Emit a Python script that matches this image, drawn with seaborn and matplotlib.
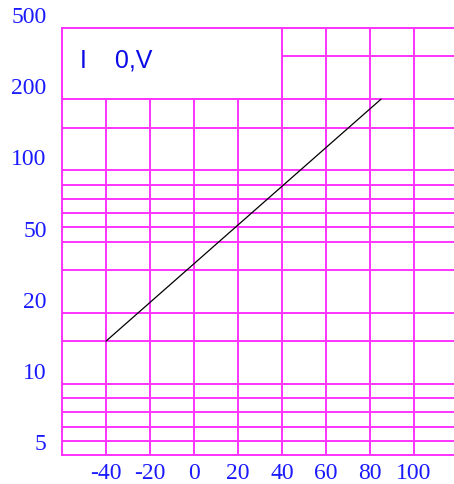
import numpy as np
import matplotlib
matplotlib.use("Agg")
import matplotlib.pyplot as plt
import seaborn as sns
from matplotlib.patches import Rectangle

# Data
temps = [-40, 85]
current = [16, 200]

x_ticks = [-40, -20, 0, 20, 40, 60, 80, 100]
y_ticks = [5, 10, 20, 50, 100, 200, 500]
y_minor = [6, 7, 8, 9, 16, 38, 60, 70, 80, 90, 160, 380]
label_text = "I    0,V"

grid_color = "#ff33ff"
text_color = "#1a1aff"

sns.set_style("white")

# equally spaced y labels, linear between neighbours
pos = np.arange(len(y_ticks))


def forward(v):
    return np.interp(v, y_ticks, pos)


def inverse(p):
    return np.interp(p, pos, y_ticks)


fig = plt.figure(figsize=(4.54, 4.84), dpi=100)
ax = fig.add_axes([62 / 454, 29 / 484, 396 / 454, 427 / 484])

sns.lineplot(x=temps, y=current, color="black", linewidth=0.9, ax=ax, zorder=3)

ax.set_yscale("function", functions=(forward, inverse))
ax.set_ylim(5, 500)
ax.set_xlim(-60, 120)

ax.set_xticks(x_ticks)
ax.set_xticklabels([str(t) for t in x_ticks])
ax.set_yticks(y_ticks)
ax.set_yticklabels([str(t) for t in y_ticks])
ax.set_yticks(y_minor, minor=True)
ax.set_xticks([], minor=True)

ax.set_axisbelow(True)
ax.grid(True, which="both", color=grid_color, linewidth=1.4)
ax.tick_params(which="both", length=0)
ax.tick_params(axis="x", pad=6, labelsize=17, labelcolor=text_color)
ax.tick_params(axis="y", pad=11, labelsize=17, labelcolor=text_color)
for lab in ax.get_xticklabels() + ax.get_yticklabels():
    lab.set_fontfamily("Liberation Serif")
for lab in ax.get_yticklabels():
    lab.set_verticalalignment("bottom")

for side in ["top", "left", "bottom"]:
    ax.spines[side].set_color(grid_color)
    ax.spines[side].set_linewidth(1.4)
ax.spines["right"].set_visible(False)

# blank title box in the upper left
ax.add_patch(Rectangle((-60, 200), 100, 300, facecolor="white",
                       edgecolor=grid_color, linewidth=1.4, zorder=1))
ax.text(0.045, 0.923, label_text, transform=ax.transAxes, va="center",
        ha="left", fontsize=18, color="#0a0ae6", family="Liberation Sans",
        zorder=4)

ax.set_xlabel("")
ax.set_ylabel("")
fig.savefig("out.png", dpi=100)
